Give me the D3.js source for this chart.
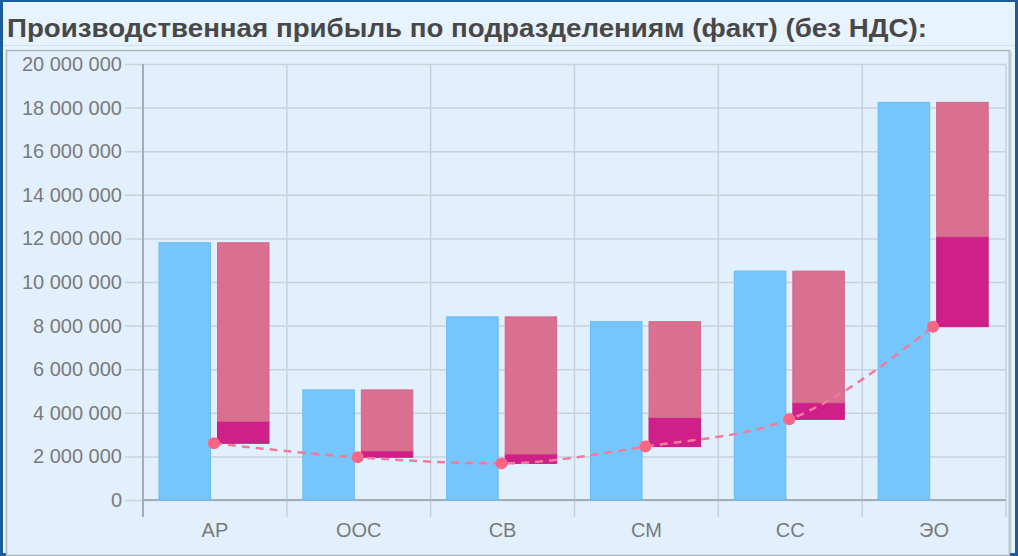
<!DOCTYPE html>
<html>
<head>
<meta charset="utf-8">
<script src="https://cdn.jsdelivr.net/npm/d3@7"></script>
<style>
  html, body { margin: 0; padding: 0; background: #e6f2fc; }
  svg { display: block; }
</style>
</head>
<body>
<svg id="chart" width="1018" height="556"></svg>
<script>
// data
var categories = ["АР", "ООС", "СВ", "СМ", "СС", "ЭО"];
var factValues = [11800000, 5050000, 8400000, 8180000, 10500000, 18240000];
var baseValues = [2600000, 1960000, 1680000, 2450000, 3700000, 7950000];
var darkValues = [1010000, 290000, 430000, 1330000, 760000, 4130000];
var restValues = [8190000, 2800000, 6290000, 4400000, 6040000, 6160000];
var yTicks = [0, 2000000, 4000000, 6000000, 8000000, 10000000, 12000000, 14000000, 16000000, 18000000, 20000000];

var svg = d3.select("#chart");
var W = 1018, H = 556;

// frame
svg.append("rect").attr("x", 0).attr("y", 0).attr("width", W).attr("height", H).attr("fill", "#1d5c9a");
svg.append("rect").attr("x", 3).attr("y", 2).attr("width", W - 6).attr("height", H - 5).attr("fill", "#e7f3fd");
svg.append("line").attr("x1", 3).attr("x2", W - 3).attr("y1", 45.5).attr("y2", 45.5)
  .attr("stroke", "#cfe3f5").attr("stroke-width", 1);

// title
svg.append("text")
  .attr("x", 7).attr("y", 37)
  .attr("font-family", "Liberation Sans, Arial, sans-serif")
  .attr("font-weight", "bold")
  .attr("font-size", 25)
  .attr("fill", "#484848")
  .attr("textLength", 920)
  .attr("lengthAdjust", "spacingAndGlyphs")
  .text("Производственная прибыль по подразделениям (факт) (без НДС):");

// plot panel
svg.append("rect").attr("x", 6.5).attr("y", 50.5).attr("width", 1003).attr("height", 505)
  .attr("fill", "#e2f0fd").attr("stroke", "#aab4bd").attr("stroke-width", 1.5);
svg.append("line").attr("x1", 1010).attr("x2", 1010).attr("y1", 51).attr("y2", 553)
  .attr("stroke", "#c2cad2").attr("stroke-width", 3);

var plotLeft = 143, plotRight = 1006, plotTop = 64, plotBottom = 500;

var x0 = d3.scaleBand().domain(categories).range([plotLeft, plotRight]).padding(0);
var x1 = d3.scaleBand().domain(["fact", "split"]).range([16, 126]).paddingInner(0.12);
var y = d3.scaleLinear().domain([0, 20000000]).range([plotBottom, plotTop]);

var fmt = function(d) { return d3.format(",")(d).replace(/,/g, " "); };

// horizontal grid + y axis
var yAxis = d3.axisLeft(y).tickValues(yTicks).tickFormat(fmt).tickSize(plotRight - plotLeft + 18).tickPadding(3);
var gy = svg.append("g").attr("transform", "translate(" + plotRight + ",0)").call(yAxis);
gy.select(".domain").remove();
gy.selectAll(".tick line").attr("stroke", "#c6d2dc").attr("stroke-width", 1.5);
gy.selectAll(".tick text")
  .attr("font-family", "Liberation Sans, Arial, sans-serif")
  .attr("font-size", 20).attr("fill", "#7a7a7a");

// vertical grid at category edges
var edges = categories.map(function(c) { return x0(c); }).concat([plotRight]);
svg.append("g").selectAll("line").data(edges).enter().append("line")
  .attr("x1", function(d) { return d; }).attr("x2", function(d) { return d; })
  .attr("y1", plotTop).attr("y2", plotBottom + 17)
  .attr("stroke", "#c6d2dc").attr("stroke-width", 1.5);

// axis lines
svg.append("line").attr("x1", plotLeft).attr("x2", plotLeft).attr("y1", plotTop).attr("y2", plotBottom + 17)
  .attr("stroke", "#a4adb5").attr("stroke-width", 2);
svg.append("line").attr("x1", plotLeft).attr("x2", plotRight).attr("y1", plotBottom).attr("y2", plotBottom)
  .attr("stroke", "#a4adb5").attr("stroke-width", 2);

// x labels
svg.append("g").selectAll("text").data(categories).enter().append("text")
  .attr("x", function(d) { return x0(d) + x0.bandwidth() / 2; })
  .attr("y", 537)
  .attr("text-anchor", "middle")
  .attr("font-family", "Liberation Sans, Arial, sans-serif")
  .attr("font-size", 20).attr("fill", "#7a7a7a")
  .text(function(d) { return d; });

// bars
var groups = svg.append("g").selectAll("g").data(categories).enter().append("g")
  .attr("transform", function(d) { return "translate(" + x0(d) + ",0)"; });

groups.append("rect")
  .attr("x", x1("fact")).attr("width", x1.bandwidth())
  .attr("y", function(d, i) { return y(factValues[i]); })
  .attr("height", function(d, i) { return y(0) - y(factValues[i]); })
  .attr("fill", "#75c6fd").attr("stroke", "#6bb9ee").attr("stroke-width", 1);

groups.append("rect")
  .attr("x", x1("split")).attr("width", x1.bandwidth())
  .attr("y", function(d, i) { return y(baseValues[i] + darkValues[i]); })
  .attr("height", function(d, i) { return y(baseValues[i]) - y(baseValues[i] + darkValues[i]); })
  .attr("fill", "#cf1f88").attr("stroke", "#c81c82").attr("stroke-width", 1);

groups.append("rect")
  .attr("x", x1("split")).attr("width", x1.bandwidth())
  .attr("y", function(d, i) { return y(baseValues[i] + darkValues[i] + restValues[i]); })
  .attr("height", function(d, i) { return y(baseValues[i] + darkValues[i]) - y(baseValues[i] + darkValues[i] + restValues[i]); })
  .attr("fill", "#d97090").attr("stroke", "#d06888").attr("stroke-width", 1);

// dashed line with dots
var pts = categories.map(function(c, i) { return [x0(c) + x0.bandwidth() / 2 - 1, y(baseValues[i])]; });
var line = d3.line().curve(d3.curveMonotoneX);
svg.append("path").attr("d", line(pts))
  .attr("fill", "none").attr("stroke", "#f27a9a").attr("stroke-width", 2.5)
  .attr("stroke-dasharray", "8,6");
svg.append("g").selectAll("circle").data(pts).enter().append("circle")
  .attr("cx", function(d) { return d[0]; }).attr("cy", function(d) { return d[1]; })
  .attr("r", 6).attr("fill", "#fd6585");
</script>
</body>
</html>
